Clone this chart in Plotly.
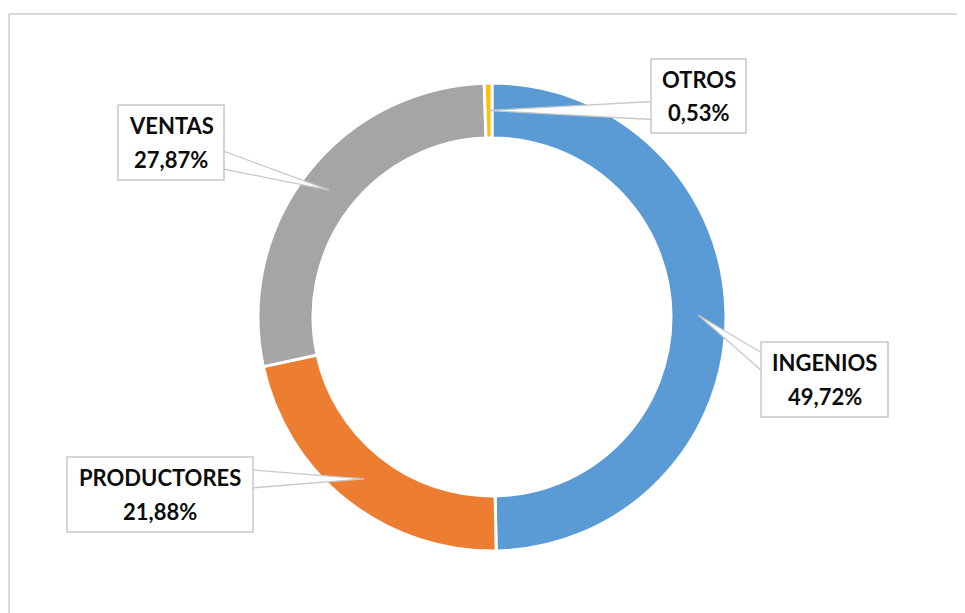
import math
import plotly.graph_objects as go

# ---- data ----
labels = ["INGENIOS", "PRODUCTORES", "VENTAS", "OTROS"]
values = [49.72, 21.88, 27.87, 0.53]
colors = ["#5B9BD5", "#ED7D31", "#A5A5A5", "#FFC000"]

# ---- layout constants (page body has an 8px margin) ----
OFF = 8
W, H = 965 - OFF, 613 - OFF
CX, CY, R = 492 - OFF, 317 - OFF, 234
HOLE = 0.765
# label boxes: left, top, right, bottom (reference px)
boxes = [(761, 342, 888, 417), (67, 457, 253, 532),
         (118, 105, 224, 180), (651, 59, 746, 133)]
BORDER = "#C8C8C8"
LINE_GAP = 16.8


def px(x):
    return x / W


def py(y):
    return 1 - y / H


fig = go.Figure()
fig.add_trace(go.Pie(
    labels=labels, values=values, hole=HOLE, sort=False,
    direction="clockwise", rotation=0,
    marker=dict(colors=colors, line=dict(color="white", width=3)),
    textinfo="none", hoverinfo="label+percent", showlegend=False,
    domain=dict(x=[px(CX - R), px(CX + R)], y=[py(CY + R), py(CY - R)]),
))

total = sum(values)
cum = 0.0
rmid = R * (1 + HOLE) / 2
annotations, shapes = [], []
for lab, v, b in zip(labels, values, boxes):
    l, t, r, bt = (c - OFF for c in b)
    frac = (cum + v / 2) / total
    cum += v
    th = 2 * math.pi * frac
    tx = CX + rmid * math.sin(th)
    ty = CY - rmid * math.cos(th)
    # callout wedge from slice to box side
    side = l + 1 if tx < l else r - 1
    yc = min(max(ty, t + 20), bt - 20)
    shapes.append(dict(
        type="path", xref="paper", yref="paper", layer="above",
        path=(f"M{px(tx)},{py(ty)} L{px(side)},{py(yc - 9)} "
              f"L{px(side)},{py(yc + 9)} Z"),
        fillcolor="white", line=dict(color=BORDER, width=1.3),
    ))
    shapes.append(dict(
        type="rect", xref="paper", yref="paper", layer="above",
        x0=px(l), x1=px(r), y0=py(bt), y1=py(t),
        fillcolor="white", line=dict(color=BORDER, width=1.5),
    ))
    pct = f"{v:.2f}".replace(".", ",") + "%"
    cy_box = (t + bt) / 2
    for txt, dy in ((lab, -LINE_GAP), (pct, LINE_GAP)):
        annotations.append(dict(
            x=px((l + r) / 2), y=py(cy_box + dy), xref="paper", yref="paper",
            xanchor="center", yanchor="middle", showarrow=False,
            text=f"<b>{txt}</b>",
            font=dict(family="Lato", size=22, color="#0D0D0D"),
        ))

shapes += [
    dict(type="line", xref="paper", yref="paper", x0=px(1), x1=1.01,
         y0=py(14 - OFF), y1=py(14 - OFF), line=dict(color="#D9D9D9", width=2)),
    dict(type="line", xref="paper", yref="paper", x0=px(1), x1=px(1),
         y0=-0.01, y1=py(14 - OFF), line=dict(color="#D9D9D9", width=2)),
]

fig.update_layout(
    width=W, height=H, margin=dict(l=0, r=0, t=0, b=0),
    paper_bgcolor="white", plot_bgcolor="white",
    annotations=annotations, shapes=shapes,
)
fig.write_html("out.html")
